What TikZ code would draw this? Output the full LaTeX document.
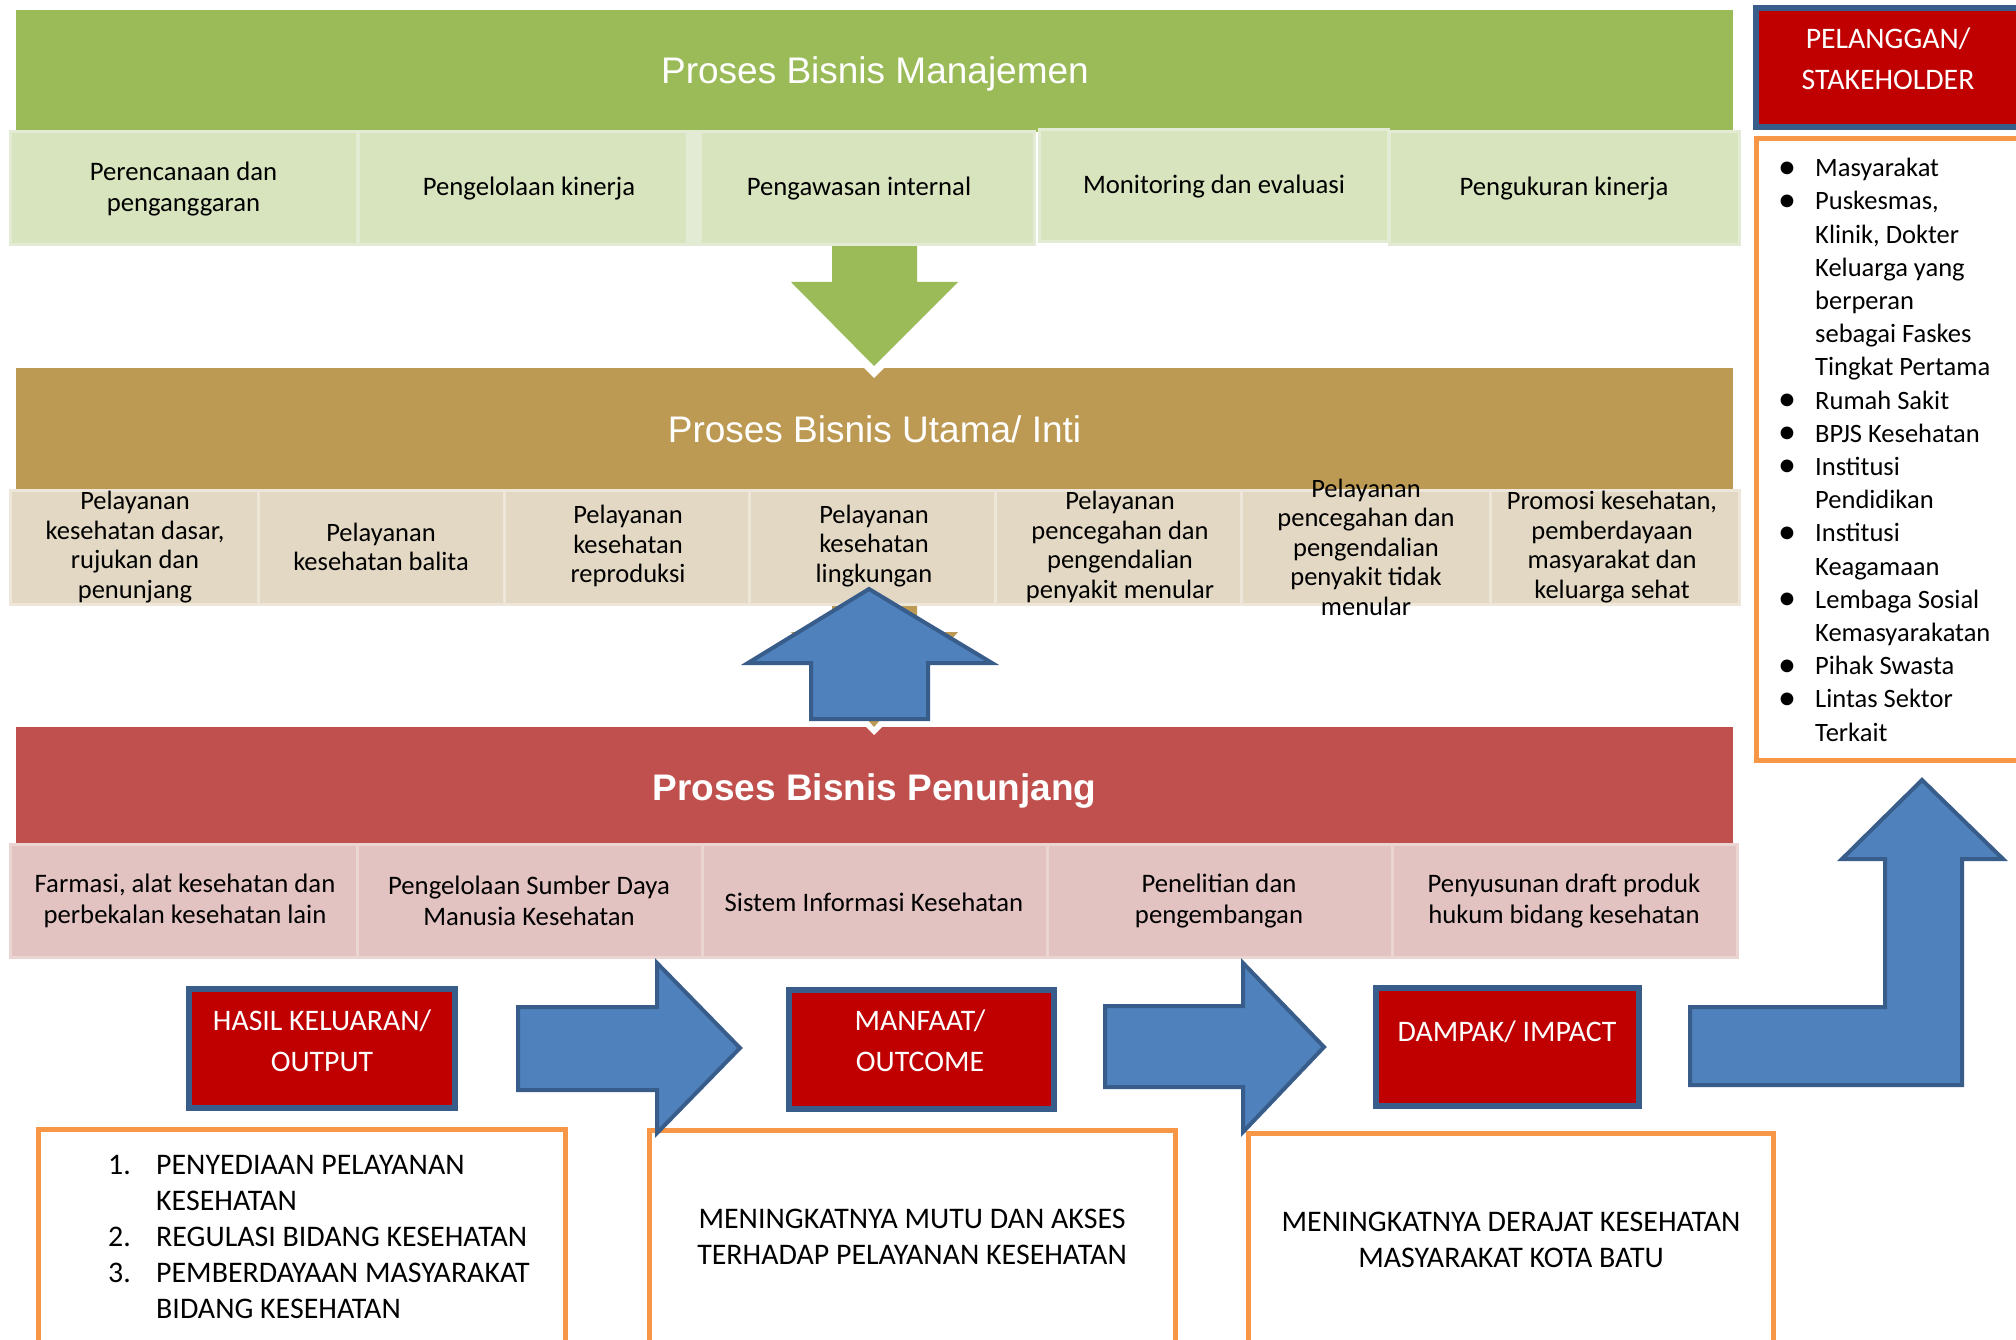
\documentclass[tikz,border=0pt]{standalone}
\usepackage{fontspec}
\setmainfont{Carlito}
\newfontfamily\hfont{Liberation Sans}
\definecolor{bandgreen}{HTML}{9BBB59}
\definecolor{subgreen}{HTML}{D8E4BD}
\definecolor{subgreenB}{HTML}{E3EBD4}
\definecolor{bandgold}{HTML}{BD9A53}
\definecolor{subgold}{HTML}{E3D8C3}
\definecolor{subgoldB}{HTML}{EDE6D9}
\definecolor{bandred}{HTML}{C0504D}
\definecolor{subred}{HTML}{E2C3C1}
\definecolor{subredB}{HTML}{EBD5D3}
\definecolor{boxred}{HTML}{C00000}
\definecolor{edgeblue}{HTML}{385D8A}
\definecolor{arrowblue}{HTML}{4F81BD}
\definecolor{orangeline}{HTML}{F79646}
\newcommand\mybul{\makebox[37pt][l]{\raisebox{-1.5pt}{\fontsize{36}{33}\selectfont\textbullet}}}
\newcommand\mynum[1]{\makebox[48pt][l]{#1}}
\tikzset{
  bandbox/.style={rectangle, inner sep=0pt, draw=none},
  subbox/.style={rectangle, inner sep=0pt, line width=3pt},
  bandtitle/.style={font=\hfont\fontsize{37}{44}\selectfont, text=white, inner sep=0pt},
  celltext/.style={font=\fontsize{26.7}{31}\selectfont, align=center, inner sep=0pt},
  coretext/.style={font=\fontsize{26.5}{29.5}\selectfont, align=center, inner sep=0pt},
  redbox/.style={rectangle, inner sep=0pt, fill=boxred, draw=edgeblue, line width=5.5pt},
  redtext/.style={font=\fontsize{29.8}{41}\selectfont, align=center, text=white, inner sep=0pt},
  orangebox/.style={rectangle, inner sep=0pt, fill=white, draw=orangeline, line width=5pt},
  bigtext/.style={font=\fontsize{29.9}{36}\selectfont, align=center, inner sep=0pt},
  blockarrow/.style={fill=arrowblue, draw=edgeblue, line width=4pt, line join=miter},
}
\begin{document}
\begin{tikzpicture}[x=1pt,y=-1pt]
\useasboundingbox (0,0) rectangle (2016,1340);
\clip (0,0) rectangle (2016,1340);
\fill[white] (0,0) rectangle (2016,1340);

% ---------- management band ----------
\node[bandbox, fill=bandgreen, minimum width=1717pt, minimum height=122pt] (mgmt) at (874.5,71) {};
\node[bandtitle] (mgmtT) at (875,74) {Proses Bisnis Manajemen};
\fill[bandgreen] (832,240) -- (917,240) -- (917,282) -- (958,282) -- (874,366) -- (791,282) -- (832,282) -- cycle;
\node[subbox, fill=subgreen, draw=subgreenB, minimum width=347pt, minimum height=113pt] (g1) at (183.5,188.5) {};
\node[subbox, fill=subgreen, draw=subgreenB, minimum width=332pt, minimum height=113pt] (g2) at (524,188.5) {};
\node[subbox, fill=subgreen, draw=subgreenB, minimum width=346pt, minimum height=113pt] (g3) at (861,188.5) {};
\fill[subgreenB] (686,133) rectangle (702,244);
\node[subbox, fill=subgreen, draw=subgreenB, minimum width=349pt, minimum height=112pt] (g4) at (1213.5,186) {};
\node[subbox, fill=subgreen, draw=subgreenB, minimum width=350pt, minimum height=113pt] (g5) at (1564,188.5) {};
\node[celltext] (g1t) at (183.5,189) {Perencanaan dan\\penganggaran};
\node[celltext] (g2t) at (529,189) {Pengelolaan kinerja};
\node[celltext] (g3t) at (859,189) {Pengawasan internal};
\node[celltext] (g4t) at (1214,187) {Monitoring dan evaluasi};
\node[celltext] (g5t) at (1564,189) {Pengukuran kinerja};

% ---------- core band ----------
\node[bandbox, fill=bandgold, minimum width=1717pt, minimum height=122pt] (core) at (874.5,429) {};
\fill[white] (864,368) -- (884,368) -- (874,378) -- cycle;
\node[bandtitle] (coreT) at (874.5,429) {Proses Bisnis Utama/ Inti};
\fill[bandgold] (832,600) -- (917,600) -- (917,632) -- (958,632) -- (874,727) -- (791,632) -- (832,632) -- cycle;
\node[subbox, fill=subgold, draw=subgoldB, minimum width=248pt, minimum height=114pt] (c1) at (134,547) {};
\node[subbox, fill=subgold, draw=subgoldB, minimum width=246pt, minimum height=114pt] (c2) at (381,547) {};
\node[subbox, fill=subgold, draw=subgoldB, minimum width=245pt, minimum height=114pt] (c3) at (626.5,547) {};
\node[subbox, fill=subgold, draw=subgoldB, minimum width=246pt, minimum height=114pt] (c4) at (872,547) {};
\node[subbox, fill=subgold, draw=subgoldB, minimum width=246pt, minimum height=114pt] (c5) at (1118,547) {};
\node[subbox, fill=subgold, draw=subgoldB, minimum width=249pt, minimum height=114pt] (c6) at (1365.5,547) {};
\node[subbox, fill=subgold, draw=subgoldB, minimum width=249pt, minimum height=114pt] (c7) at (1614.5,547) {};
\node[coretext] (c1t) at (135,547) {Pelayanan\\kesehatan dasar,\\rujukan dan\\penunjang};
\node[coretext] (c2t) at (381,547) {Pelayanan\\kesehatan balita};
\node[coretext] (c3t) at (628,546) {Pelayanan\\kesehatan\\reproduksi};
\node[coretext] (c4t) at (874,546) {Pelayanan\\kesehatan\\lingkungan};
\node[coretext] (c5t) at (1120,547) {Pelayanan\\pencegahan dan\\pengendalian\\penyakit menular};
\node[coretext] (c6t) at (1366,547) {Pelayanan\\pencegahan dan\\pengendalian\\penyakit tidak\\menular};
\node[coretext] (c7t) at (1612,547) {Promosi kesehatan,\\pemberdayaan\\masyarakat dan\\keluarga sehat};

% ---------- support band ----------
\node[bandbox, fill=bandred, minimum width=1717pt, minimum height=117pt] (supp) at (874.5,785.5) {};
\fill[white] (866,727) -- (882,727) -- (874,735) -- cycle;
\node[bandtitle, font=\hfont\bfseries\fontsize{37}{44}\selectfont] (suppT) at (874.5,791) {Proses Bisnis Penunjang};
\node[subbox, fill=subred, draw=subredB, minimum width=347pt, minimum height=113pt] (s1) at (183.5,900.5) {};
\node[subbox, fill=subred, draw=subredB, minimum width=345pt, minimum height=113pt] (s2) at (529.5,900.5) {};
\node[subbox, fill=subred, draw=subredB, minimum width=345pt, minimum height=113pt] (s3) at (874.5,900.5) {};
\node[subbox, fill=subred, draw=subredB, minimum width=345pt, minimum height=113pt] (s4) at (1219.5,900.5) {};
\node[subbox, fill=subred, draw=subredB, minimum width=345pt, minimum height=113pt] (s5) at (1564.5,900.5) {};
\node[celltext] (s1t) at (185,901) {Farmasi, alat kesehatan dan\\perbekalan kesehatan lain};
\node[celltext] (s2t) at (529,901) {Pengelolaan Sumber Daya\\Manusia Kesehatan};
\node[celltext] (s3t) at (874,902) {Sistem Informasi Kesehatan};
\node[celltext] (s4t) at (1219,901) {Penelitian dan\\pengembangan};
\node[celltext] (s5t) at (1564,901) {Penyusunan draft produk\\hukum bidang kesehatan};

% blue up arrow (support -> core)
\draw[blockarrow] (869,589) -- (992,663) -- (928,663) -- (928,719) -- (811,719) -- (811,663) -- (748,663) -- cycle;

% ---------- stakeholder column ----------
\node[redbox, minimum width=274pt, minimum height=119pt] (cust) at (1893,67.5) {};
\node[redtext] (custT) at (1888,58.5) {PELANGGAN/\\STAKEHOLDER};
\node[orangebox, minimum width=274pt, minimum height=621pt] (stkbox) at (1893,449.5) {};
\node[font=\fontsize{26.5}{33.2}\selectfont, align=left, anchor=north west, inner sep=0pt] (stk) at (1778,158)
 {\mybul Masyarakat\\\mybul Puskesmas,\\\hspace*{37pt}Klinik, Dokter\\\hspace*{37pt}Keluarga yang\\\hspace*{37pt}berperan\\\hspace*{37pt}sebagai Faskes\\\hspace*{37pt}Tingkat Pertama\\\mybul Rumah Sakit\\\mybul BPJS Kesehatan\\\mybul Institusi\\\hspace*{37pt}Pendidikan\\\mybul Institusi\\\hspace*{37pt}Keagamaan\\\mybul Lembaga Sosial\\\hspace*{37pt}Kemasyarakatan\\\mybul Pihak Swasta\\\mybul Lintas Sektor\\\hspace*{37pt}Terkait};

% ---------- bottom row ----------
\node[orangebox, minimum width=527pt, minimum height=270pt] (ob1) at (302,1264.5) {};
\node[orangebox, minimum width=526pt, minimum height=270pt] (ob2) at (912.5,1265.5) {};
\node[orangebox, minimum width=525pt, minimum height=270pt] (ob3) at (1511,1268.5) {};
\node[bigtext, align=left, anchor=north west] (outlist) at (108,1155)
 {\mynum{1.}PENYEDIAAN PELAYANAN\\\hspace*{48pt}KESEHATAN\\\mynum{2.}REGULASI BIDANG KESEHATAN\\\mynum{3.}PEMBERDAYAAN MASYARAKAT\\\hspace*{48pt}BIDANG KESEHATAN};
\node[bigtext] (mutu) at (912,1237) {MENINGKATNYA MUTU DAN AKSES\\TERHADAP PELAYANAN KESEHATAN};
\node[bigtext] (derajat) at (1511,1240) {MENINGKATNYA DERAJAT KESEHATAN\\MASYARAKAT KOTA BATU};

\node[redbox, minimum width=266pt, minimum height=119pt] (outp) at (322,1048.5) {};
\node[redtext] (outpT) at (322,1040.5) {HASIL KELUARAN/\\OUTPUT};
\node[redbox, minimum width=265pt, minimum height=119pt] (outc) at (921.5,1049.5) {};
\node[redtext] (outcT) at (920,1040.5) {MANFAAT/\\OUTCOME};
\node[redbox, minimum width=263pt, minimum height=118pt] (imp) at (1507.5,1047) {};
\node[redtext] (impT) at (1507,1032) {DAMPAK/ IMPACT};

\draw[blockarrow] (518,1007) -- (657,1007) -- (657,963) -- (740,1048) -- (657,1133) -- (657,1090) -- (518,1090) -- cycle;
\draw[blockarrow] (1105,1006) -- (1243,1006) -- (1243,963) -- (1324,1047) -- (1243,1132) -- (1243,1087) -- (1105,1087) -- cycle;
\draw[blockarrow] (1690,1007) -- (1885,1007) -- (1885,859) -- (1842,859) -- (1922,780) -- (2003,859) -- (1962,859) -- (1962,1085) -- (1690,1085) -- cycle;
\end{tikzpicture}
\end{document}
